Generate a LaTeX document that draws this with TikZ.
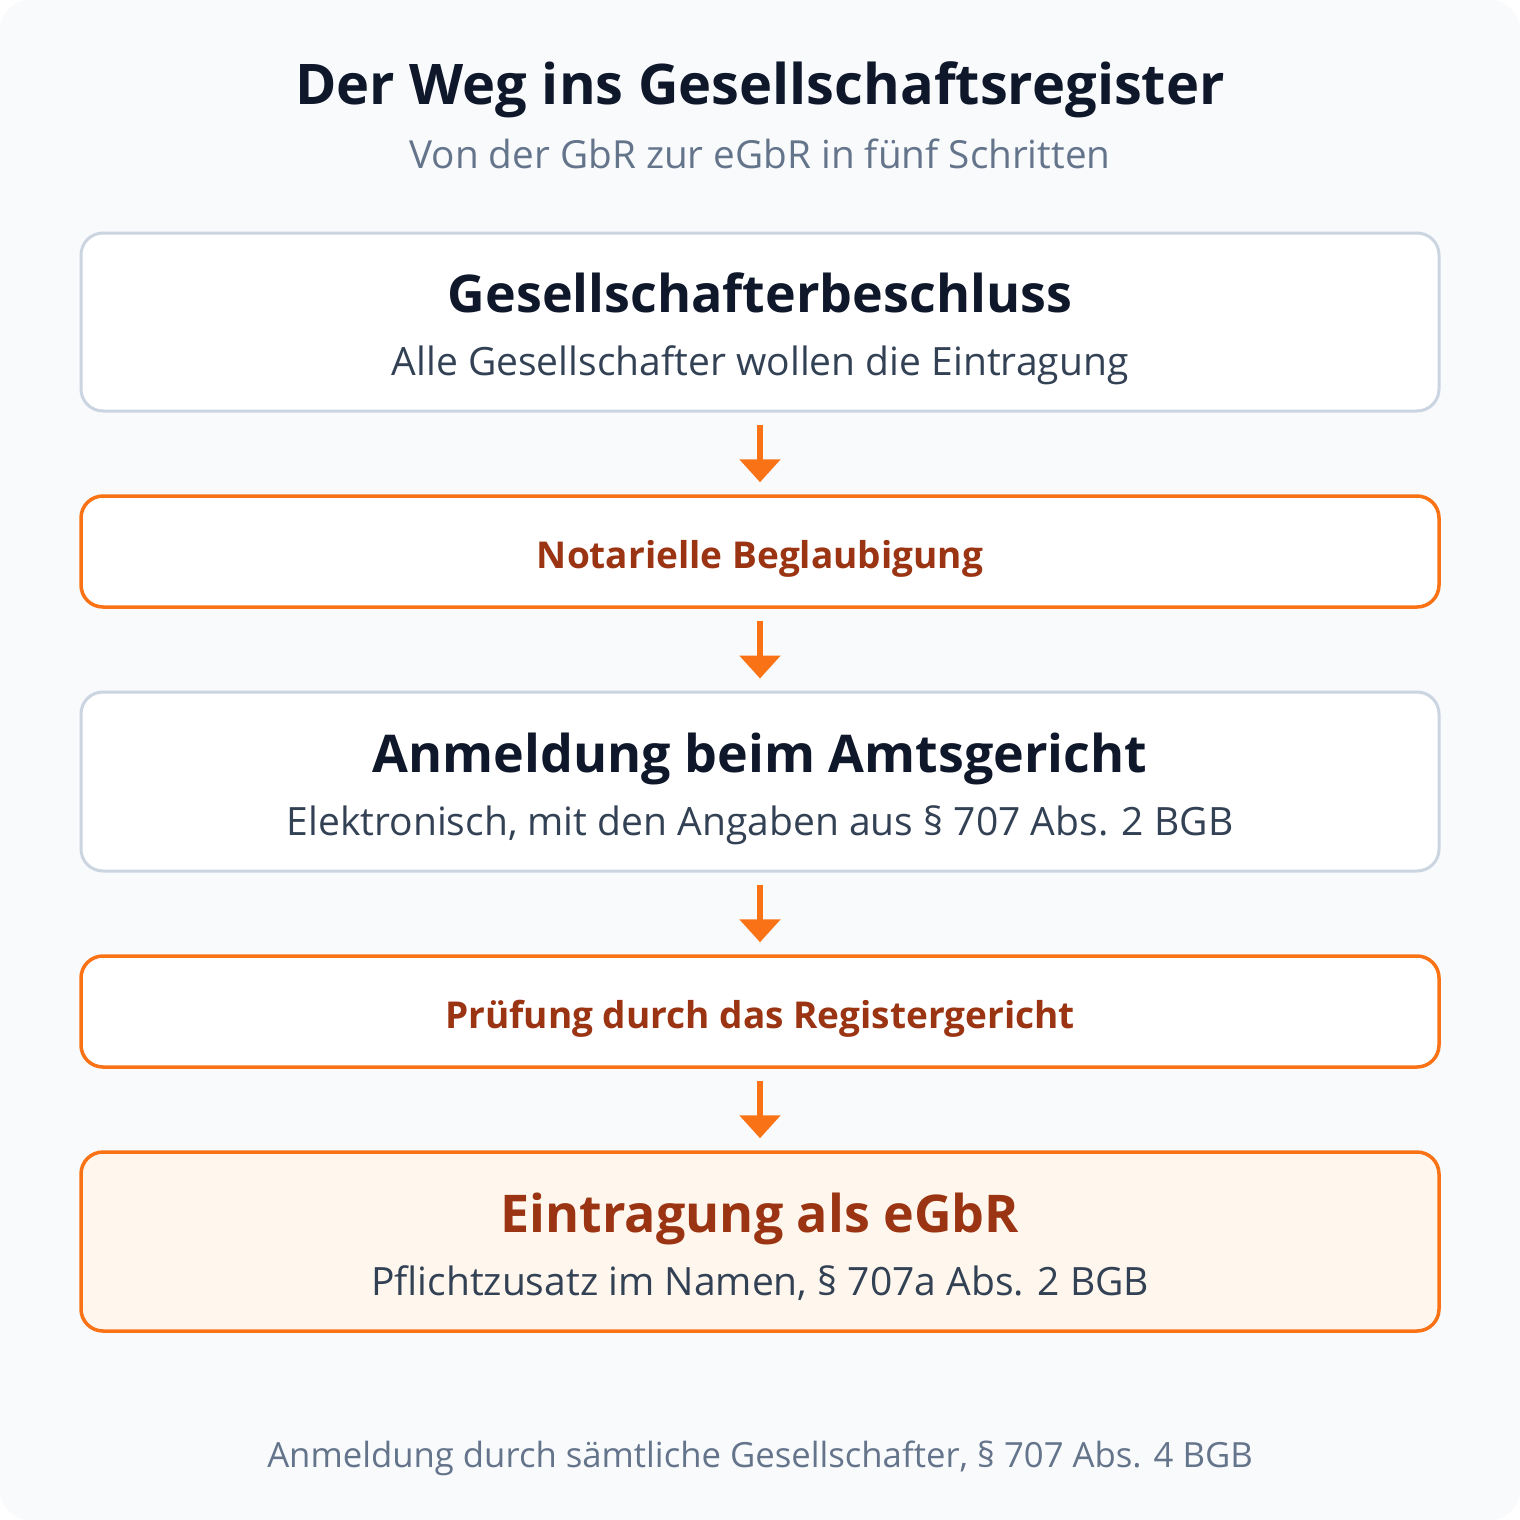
\documentclass[tikz,border=0pt]{standalone}
\usepackage{fontspec}
\setmainfont{Open Sans}
\usetikzlibrary{arrows.meta}
\definecolor{bgc}{HTML}{F8FAFC}
\definecolor{titlec}{HTML}{0F172A}
\definecolor{subc}{HTML}{64748B}
\definecolor{bodyc}{HTML}{334155}
\definecolor{orc}{HTML}{F97316}
\definecolor{dorc}{HTML}{9A3412}
\definecolor{grayc}{HTML}{CBD5E1}
\definecolor{lightor}{HTML}{FFF7ED}
\tikzset{
  graybox/.style={draw=grayc, line width=3pt, fill=white, rounded corners=22pt, minimum width=1358pt, inner sep=0pt},
  orbox/.style={draw=orc, line width=3.5pt, fill=white, rounded corners=22pt, minimum width=1358pt, inner sep=0pt},
  finalbox/.style={orbox, fill=lightor},
  arr/.style={draw=orc, line width=6pt, -{Triangle[width=40pt,length=23pt]}, shorten <=12pt, shorten >=12pt},
  txt/.style={anchor=base, inner sep=0pt},
  bigt/.style={txt, font=\fontsize{52}{58}\selectfont\bfseries},
  midt/.style={txt, font=\fontsize{37}{42}\selectfont\bfseries, text=dorc},
  bodyt/.style={txt, font=\fontsize{39}{44}\selectfont, text=bodyc},
}
\begin{document}
\begin{tikzpicture}[x=1pt,y=1pt]
\useasboundingbox (0,0) rectangle (1520,-1520);
\fill[white] (0,0) rectangle (1520,-1520);
\fill[bgc, rounded corners=30pt] (0,0) rectangle (1520,-1520);

\node[txt, text=titlec, font=\fontsize{56}{62}\selectfont\bfseries] (title) at (760,-104) {Der Weg ins Gesellschaftsregister};
\node[txt, text=subc, font=\fontsize{38.7}{44}\selectfont] (subtitle) at (760,-168) {Von der GbR zur eGbR in fünf Schritten};

\node[graybox, minimum height=178pt] (b1) at (760,-322) {};
\node[orbox, minimum height=111pt] (b2) at (760,-551.5) {};
\node[graybox, minimum height=179pt] (b3) at (760,-781.5) {};
\node[orbox, minimum height=111pt] (b4) at (760,-1011.5) {};
\node[finalbox, minimum height=179pt] (b5) at (760,-1241.5) {};

\node[bigt, text=titlec] (t1) at (760,-312) {Gesellschafterbeschluss};
\node[bodyt] (s1) at (760,-375) {Alle Gesellschafter wollen die Eintragung};
\node[midt] (t2) at (760,-568) {Notarielle Beglaubigung};
\node[bigt, text=titlec] (t3) at (760,-772) {Anmeldung beim Amtsgericht};
\node[bodyt] (s3) at (760,-835) {Elektronisch, mit den Angaben aus § 707 Abs. 2 BGB};
\node[midt] (t4) at (760,-1028) {Prüfung durch das Registergericht};
\node[bigt, text=dorc] (t5) at (760,-1232) {Eintragung als eGbR};
\node[bodyt] (s5) at (760,-1295) {Pflichtzusatz im Namen, § 707a Abs. 2 BGB};

\node[txt, text=subc, font=\fontsize{34.7}{40}\selectfont] (foot) at (760,-1467) {Anmeldung durch sämtliche Gesellschafter, § 707 Abs. 4 BGB};

\draw[arr] (b1.south) -- (b2.north);
\draw[arr] (b2.south) -- (b3.north);
\draw[arr] (b3.south) -- (b4.north);
\draw[arr] (b4.south) -- (b5.north);
\end{tikzpicture}
\end{document}
